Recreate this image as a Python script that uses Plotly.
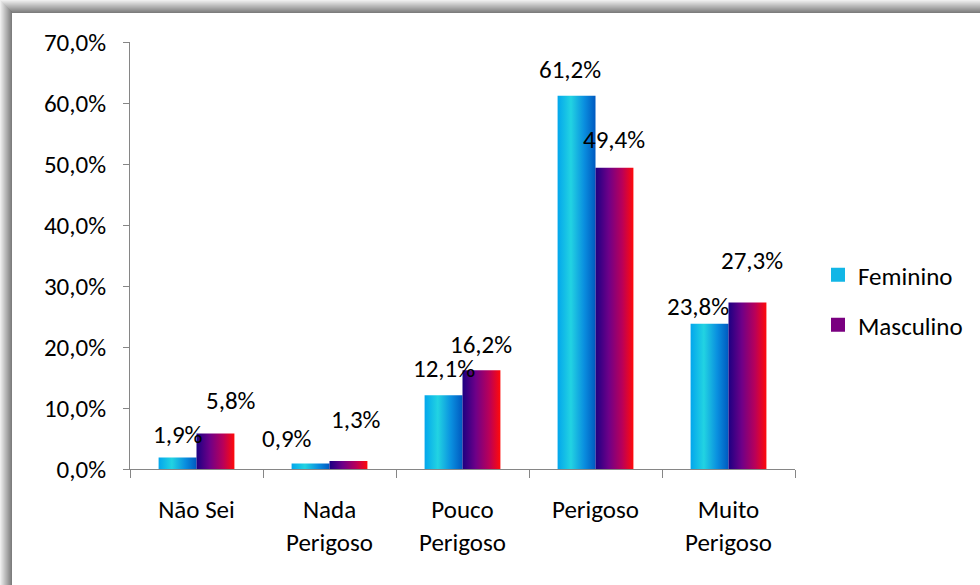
import plotly.graph_objects as go

# Survey answers by gender (percent of respondents)
categories = ["Não Sei", "Nada<br>Perigoso", "Pouco<br>Perigoso", "Perigoso", "Muito<br>Perigoso"]
series_names = ["Feminino", "Masculino"]
feminino = [1.9, 0.9, 12.1, 61.2, 23.8]
masculino = [5.8, 1.3, 16.2, 49.4, 27.3]
y_ticks = [0, 10, 20, 30, 40, 50, 60, 70]


def pct(v):
    return f"{v:.1f}%".replace(".", ",")


# Styling
W, H = 980, 585
ML, MR, MT, MB = 130, 185, 42, 116
PW, PH = W - ML - MR, H - MT - MB
FONT = "Carlito, Calibri, Lato, sans-serif"
FS = 25
BAR_W = 0.285
fem_scale = [[0, "#03A6EC"], [0.35, "#22D3E2"], [0.7, "#0A8FDF"], [1, "#0059C0"]]
mas_scale = [[0, "#1C0082"], [0.35, "#6E0088"], [0.7, "#B8005A"], [1, "#FF0A0A"]]
legend_colors = ["#12B6E6", "#7A0080"]
# label offsets in px (x, y-above-bar-top)
fem_label_off = [(0, 23), (-24, 25), (0, 27), (-7, 26), (-12, 17)]
mas_label_off = [(16, 33), (8, 42), (0, 26), (0, 28), (5, 42)]

fig = go.Figure()


def add_bars(values, offset, scale, name):
    for i, v in enumerate(values):
        x0, x1 = i + offset, i + offset + BAR_W
        fig.add_trace(go.Scatter(
            x=[x0, x1, x1, x0, x0], y=[0, 0, v, v, 0],
            mode="lines", fill="toself", line=dict(width=0),
            fillgradient=dict(type="horizontal", colorscale=scale),
            showlegend=False, hoverinfo="skip", name=name,
        ))


add_bars(feminino, -BAR_W, fem_scale, series_names[0])
add_bars(masculino, 0, mas_scale, series_names[1])

# Value labels
for values, offset, offs in ((feminino, -BAR_W / 2, fem_label_off),
                             (masculino, BAR_W / 2, mas_label_off)):
    for i, v in enumerate(values):
        fig.add_annotation(
            x=i + offset, y=v, text=pct(v),
            showarrow=False, xanchor="center", yanchor="middle",
            xshift=offs[i][0], yshift=offs[i][1],
            font=dict(family=FONT, size=FS, color="#000000"),
        )

# Legend entries, each in its own legend box
for k, (nm, col) in enumerate(zip(series_names, legend_colors)):
    lg = "legend" if k == 0 else "legend2"
    fig.add_trace(go.Scatter(
        x=[None], y=[None], mode="markers", name=nm, legend=lg,
        marker=dict(symbol="square", size=14, color=col, line=dict(width=0)),
    ))

legend_style = dict(font=dict(family=FONT, size=FS, color="#000000"),
                    bgcolor="rgba(0,0,0,0)", borderwidth=0,
                    xanchor="left", yanchor="middle", itemwidth=30)


def px_x(p):
    return (p - ML) / PW


def px_y(p):
    return (H - MB - p) / PH


# Frame shadow along the top and left edges
shapes = []
n = 13
for j in range(n):
    g = int(238 - (238 - 125) * j / (n - 1))
    c = f"rgb({g},{g},{g})"
    shapes.append(dict(type="rect", xref="paper", yref="paper",
                       x0=px_x(j), x1=px_x(W), y0=px_y(j), y1=px_y(j + 1),
                       fillcolor=c, line=dict(width=0), layer="below"))
for j in range(n - 1):
    g = int(238 - (238 - 125) * j / (n - 2))
    c = f"rgb({g},{g},{g})"
    shapes.append(dict(type="rect", xref="paper", yref="paper",
                       x0=px_x(j), x1=px_x(j + 1), y0=px_y(j), y1=px_y(H),
                       fillcolor=c, line=dict(width=0), layer="below"))

fig.update_layout(
    width=W, height=H,
    margin=dict(l=ML, r=MR, t=MT, b=MB),
    paper_bgcolor="#FFFFFF", plot_bgcolor="#FFFFFF",
    font=dict(family=FONT, size=FS, color="#000000"),
    showlegend=True,
    legend=dict(x=px_x(818), y=px_y(275), **legend_style),
    legend2=dict(x=px_x(818), y=px_y(325), **legend_style),
    shapes=shapes,
    xaxis=dict(
        range=[-0.5, len(categories) - 0.5],
        tickmode="array", tickvals=list(range(len(categories))), ticktext=categories,
        ticks="", showgrid=False, zeroline=False, ticklabelstandoff=18,
        showline=True, linecolor="#868686", linewidth=1,
        tickfont=dict(family=FONT, size=FS, color="#000000"),
        minor=dict(tickmode="array", tickvals=[i - 0.5 for i in range(len(categories) + 1)],
                   ticks="outside", ticklen=8, tickcolor="#868686", tickwidth=1),
        fixedrange=True,
    ),
    yaxis=dict(
        range=[0, 70], tickmode="array", tickvals=y_ticks,
        ticktext=[pct(v) for v in y_ticks],
        ticks="outside", ticklen=6, tickcolor="#868686", tickwidth=1,
        showgrid=False, zeroline=False, ticklabelstandoff=12,
        showline=True, linecolor="#868686", linewidth=1,
        tickfont=dict(family=FONT, size=FS, color="#000000"),
        fixedrange=True,
    ),
)

fig.write_html("out.html")
